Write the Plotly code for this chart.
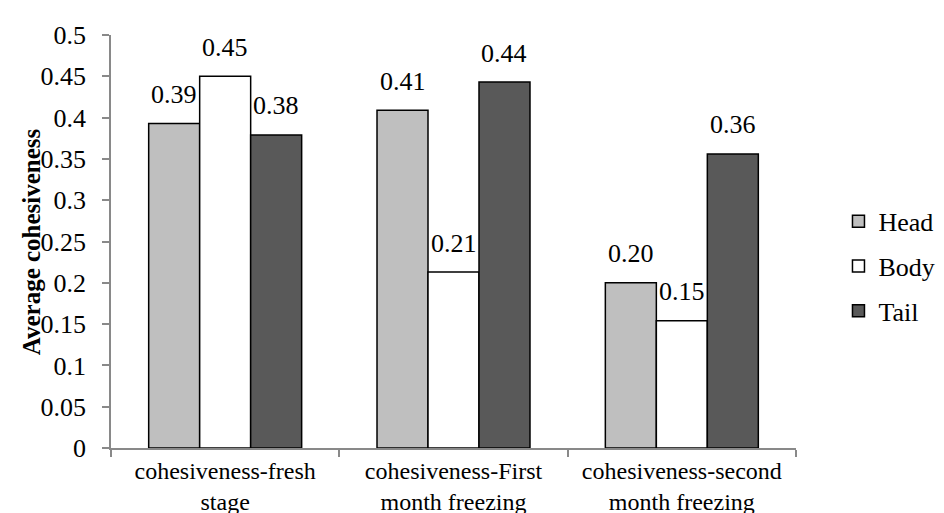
import plotly.graph_objects as go

categories = ["cohesiveness-fresh<br>stage", "cohesiveness-First<br>month freezing", "cohesiveness-second<br>month freezing"]
series_names = ["Head", "Body", "Tail"]
head = [0.393, 0.409, 0.200]
body = [0.450, 0.213, 0.154]
tail = [0.379, 0.443, 0.356]
colors = ["#BFBFBF", "#FFFFFF", "#595959"]
y_ticks = [0, 0.05, 0.1, 0.15, 0.2, 0.25, 0.3, 0.35, 0.4, 0.45, 0.5]
y_ticklabels = ["0", "0.05", "0.1", "0.15", "0.2", "0.25", "0.3", "0.35", "0.4", "0.45", "0.5"]
y_title = "Average cohesiveness"

FONT = "Liberation Serif"
AXIS_GRAY = "#898989"
BARGAP = 0.33

fig = go.Figure()
all_series = [head, body, tail]
for k, (name, vals, col) in enumerate(zip(series_names, all_series, colors)):
    fig.add_trace(go.Bar(
        x=categories, y=vals, name=name,
        marker=dict(color=col, line=dict(color="#000000", width=1.5)),
        legendgroup=name,
    ))

# data labels above each bar (positions derived from category index and bar width)
w = (1 - BARGAP) / len(series_names)
for k, vals in enumerate(all_series):
    for i, v in enumerate(vals):
        fig.add_annotation(
            x=i + (k - 1) * w, y=v, xref="x", yref="y",
            text=f"{v:.2f}", showarrow=False,
            yshift=29, font=dict(family=FONT, size=26, color="#000000"),
        )

# y-axis title
fig.add_annotation(
    x=-0.1157, y=0.5, xref="paper", yref="paper", xanchor="center", yanchor="middle",
    text=f"<b>{y_title}</b>", textangle=-90, showarrow=False,
    font=dict(family=FONT, size=25, color="#000000"),
)

fig.update_layout(
    width=944, height=513,
    margin=dict(l=103, r=132, t=27, b=73),
    paper_bgcolor="white", plot_bgcolor="white",
    barmode="group", bargap=BARGAP, bargroupgap=0,
    font=dict(family=FONT, size=26, color="#000000"),
    showlegend=True,
    legend=dict(
        x=1.062, xanchor="left", y=0.44, yanchor="middle",
        font=dict(family=FONT, size=26, color="#000000"),
        tracegroupgap=8, bgcolor="rgba(0,0,0,0)",
    ),
)
fig.update_xaxes(
    type="category",
    showline=True, linecolor=AXIS_GRAY, linewidth=1.5,
    ticks="outside", tickson="boundaries", ticklen=7, tickcolor=AXIS_GRAY, tickwidth=1.5,
    tickfont=dict(family=FONT, size=24, color="#000000"),
    ticklabelstandoff=0,
    showgrid=False, automargin=False,
)
fig.update_yaxes(
    range=[0, 0.5], tickvals=y_ticks, ticktext=y_ticklabels,
    showline=True, linecolor=AXIS_GRAY, linewidth=1.5,
    ticks="outside", ticklen=7, tickcolor=AXIS_GRAY, tickwidth=1.5,
    tickfont=dict(family=FONT, size=26, color="#000000"),
    ticklabelstandoff=11,
    showgrid=False, zeroline=False, automargin=False,
)

fig.write_html("out.html")
